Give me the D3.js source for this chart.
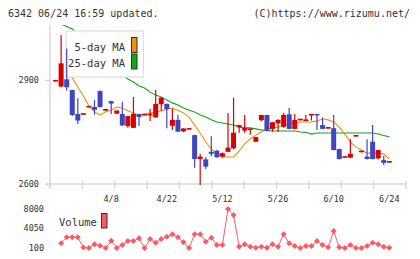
<!DOCTYPE html>
<html>
<head>
<meta charset="utf-8">
<script src="https://cdn.jsdelivr.net/npm/d3@7"></script>
<style>
  body { margin: 0; background: #fff; }
  svg { display: block; }
  text { font-family: "DejaVu Sans Mono", monospace; fill: #333; }
</style>
</head>
<body>
<div id="chart"></div>
<script>
// daily candles, index 0 .. 60
const openP  = [2896,2881,2902,2871,2802,2800,2821,2822,2868,2811,2839,2803,2802,2767,2762,2802,2798,2798,2792,2830,
                2831,2768,2785,2752,2757,2741,2672,2671,2693,2696,2679,2693,2703,2764,2754,2755,2722,2784,2799,2759,
                2775,2765,2801,2759,2784,2782,2798,2800,2770,2760,2761,2701,2676,2676,2737,2692,2679,2722,2674,2669,2662];
const highP  = [2898,3030,2991,2872,2847,2802,2823,2842,2870,2815,2840,2812,2837,2797,2851,2803,2800,2816,2871,2850,
                2832,2818,2799,2761,2759,2742,2687,2678,2738,2699,2691,2805,2849,2771,2799,2759,2736,2799,2800,2779,
                2787,2805,2819,2802,2786,2799,2800,2800,2792,2762,2799,2702,2678,2729,2739,2695,2729,2770,2699,2681,2664];
const lowP   = [2896,2879,2869,2796,2773,2800,2821,2800,2821,2810,2802,2802,2767,2762,2761,2767,2798,2782,2791,2811,
                2761,2756,2750,2750,2757,2647,2597,2643,2679,2676,2676,2692,2700,2748,2748,2742,2721,2781,2752,2751,
                2750,2762,2758,2758,2783,2782,2783,2756,2758,2760,2697,2671,2676,2675,2737,2691,2671,2671,2671,2655,2662];
const closeP = [2898,2948,2879,2799,2783,2802,2823,2814,2822,2814,2832,2812,2769,2796,2802,2793,2800,2800,2831,2849,
                2816,2785,2751,2760,2759,2672,2679,2650,2687,2677,2689,2705,2748,2770,2762,2758,2735,2799,2754,2778,
                2785,2799,2759,2785,2786,2784,2800,2798,2759,2762,2698,2672,2678,2687,2739,2694,2672,2672,2698,2661,2664];

const ma5  = [null,null,2929,2906,2880,2854,2825,2808,2799,2808,2813,2822,2819,2811,2805,2799,2802,2805,2808,2811,
              2816,2819,2813,2805,2793,2770,2747,2721,2701,2687,2678,2678,2678,2695,2716,2730,2741,2750,2759,2762,
              2764,2770,2773,2776,2779,2779,2779,2782,2788,2785,2779,2764,2744,2721,2707,2698,2689,2689,2689,2687,2672];
const ma25 = [3070,3061,3054,3047,3033,3018,3004,2989,2975,2961,2946,2932,2917,2903,2894,2883,2877,2865,2857,2851,
              2842,2834,2828,2819,2813,2808,2799,2793,2785,2779,2776,2773,2770,2764,2762,2762,2759,2756,2754,2753,
              2753,2753,2753,2753,2750,2749,2744,2747,2747,2747,2747,2747,2747,2747,2747,2747,2747,2747,2744,2740,2736];

const volume = [null,1050,2270,2270,2270,200,100,850,570,100,1580,100,710,1520,1520,2060,100,1920,1170,1920,
                2390,2880,2270,1250,100,2880,2880,1380,2190,710,710,8000,6790,370,850,370,160,370,160,850,
                370,2880,1050,500,100,500,500,1520,710,240,3540,240,100,710,100,100,500,1170,850,370,160];

const dateLabels = ["4/8", "4/22", "5/12", "5/26", "6/10", "6/24"];
const dateIdx    = [10, 20, 30, 40, 50, 60];
const priceTicks = [2600, 2900];
const volTicks   = [100, 4050, 8000];
const legendNames = ["5-day MA", "25-day MA"];

const COLORS = {
  UP: "#d80000",
  DOWN: "#4046c0",
  MA5: "#f0900c",
  MA25: "#14a414",
  VOL: "#ff5a64",
  GRID: "#d8d8d8"
};

const W = 420, H = 259;
const svg = d3.select("#chart").append("svg").attr("width", W).attr("height", H);

const x  = d3.scaleLinear().domain([-1, 63]).range([50, 406]);
const y  = d3.scaleLinear().domain([2600, 2900]).range([184, 80]);
const yv = d3.scaleLinear().domain([100, 8000]).range([248, 209]);

svg.append("clipPath").attr("id", "plotClip")
  .append("rect").attr("x", 50).attr("y", 25).attr("width", 356).attr("height", 170);

// header
svg.append("text").attr("x", 8).attr("y", 16.5).style("font-size", "10px")
  .text("6342 06/24 16:59 updated.");
svg.append("text").attr("x", 410).attr("y", 16.5).attr("text-anchor", "end").style("font-size", "10px")
  .text("(C)https://www.rizumu.net/");

// axes frame
const grid = svg.append("g");
grid.append("line").attr("x1", 50).attr("x2", 50).attr("y1", 25).attr("y2", 189)
  .style("stroke", COLORS.GRID).style("stroke-width", 1.5);
grid.append("line").attr("x1", 45).attr("x2", 406).attr("y1", y(2600)).attr("y2", y(2600))
  .style("stroke", COLORS.GRID).style("stroke-width", 1.5);

// bottom ticks, 11 equal steps
const tickScale = d3.scaleLinear().domain([0, 11]).range([50, 406]);
grid.selectAll(".vt").data(d3.range(12)).join("line")
  .attr("x1", d => tickScale(d)).attr("x2", d => tickScale(d))
  .attr("y1", 181).attr("y2", 189)
  .style("stroke", COLORS.GRID).style("stroke-width", 1.5);

// price axis
const yAxis = svg.append("g").attr("transform", "translate(50,0)")
  .call(d3.axisLeft(y).tickValues(priceTicks).tickSize(5).tickPadding(6).tickFormat(d3.format("d")));
yAxis.select(".domain").remove();
yAxis.selectAll("line").style("stroke", COLORS.GRID).style("stroke-width", 1.5);
yAxis.selectAll("text").style("font-size", "8.5px").style("font-family", "DejaVu Sans Mono").attr("fill", "#333");

// date labels
svg.selectAll(".dl").data(dateIdx).join("text")
  .attr("x", d => x(d)).attr("y", 201.5).attr("text-anchor", "middle")
  .style("font-size", "8.5px")
  .text((d, i) => dateLabels[i]);

// moving averages
const idx = d3.range(openP.length);
const maG = svg.append("g").attr("clip-path", "url(#plotClip)");
const maLine = arr => d3.line().defined(i => arr[i] != null).x(i => x(i)).y(i => y(arr[i]));
maG.append("path").attr("d", maLine(ma25)(idx))
  .style("fill", "none").style("stroke", COLORS.MA25).style("stroke-width", 1.1);
maG.append("path").attr("d", maLine(ma5)(idx))
  .style("fill", "none").style("stroke", COLORS.MA5).style("stroke-width", 1.1);

// legend box (hides lines, candles stay on top)
svg.append("rect").attr("x", 66).attr("y", 31).attr("width", 77.5).attr("height", 46)
  .style("fill", "#fff").style("stroke", "#ddd").style("stroke-width", 1.2);

// candles
const cg = svg.append("g").attr("clip-path", "url(#plotClip)");
const bw = 5;
idx.forEach(i => {
  const up = closeP[i] >= openP[i];
  const col = up ? COLORS.UP : COLORS.DOWN;
  const cx = x(i);
  cg.append("line")
    .attr("x1", cx).attr("x2", cx)
    .attr("y1", y(highP[i])).attr("y2", y(lowP[i]))
    .style("stroke", col).style("stroke-width", 1.2);
  const top = y(Math.max(openP[i], closeP[i]));
  const h = Math.max(1.6, Math.abs(y(openP[i]) - y(closeP[i])));
  cg.append("rect")
    .attr("x", cx - bw / 2).attr("y", top - (h > Math.abs(y(openP[i]) - y(closeP[i])) ? 0.8 : 0))
    .attr("width", bw).attr("height", h)
    .style("fill", col);
});

// legend text + swatches
const legColors = [COLORS.MA5, COLORS.MA25];
legendNames.forEach((name, i) => {
  svg.append("text").attr("x", 125).attr("y", 50.5 + i * 16.7).attr("text-anchor", "end")
    .style("font-size", "10.5px").text(name);
  svg.append("rect").attr("x", 131.5).attr("y", 37.5 + i * 16.5).attr("width", 5.5).attr("height", 15)
    .style("fill", legColors[i]).style("stroke", "#333").style("stroke-width", 1);
});

// volume panel
svg.selectAll(".vl").data(volTicks).join("text")
  .attr("x", 44).attr("y", d => yv(d)).attr("dy", "0.35em").attr("text-anchor", "end")
  .style("font-size", "8.5px").text(d => d);

svg.append("text").attr("x", 59).attr("y", 225.5).style("font-size", "10.5px").text("Volume");
svg.append("rect").attr("x", 101.5).attr("y", 213.5).attr("width", 5.5).attr("height", 14.5)
  .style("fill", COLORS.VOL).style("stroke", "#333").style("stroke-width", 1);

const volLine = d3.line().defined(i => volume[i] != null).x(i => x(i)).y(i => yv(volume[i]));
svg.append("path").attr("d", volLine(idx))
  .style("fill", "none").style("stroke", COLORS.VOL).style("stroke-width", 1);

const diamond = "M0,-3L3,0L0,3L-3,0Z";
svg.selectAll(".vp").data(idx.filter(i => volume[i] != null)).join("path")
  .attr("d", diamond)
  .attr("transform", i => `translate(${x(i)},${yv(volume[i])})`)
  .style("fill", COLORS.VOL);
</script>
</body>
</html>
